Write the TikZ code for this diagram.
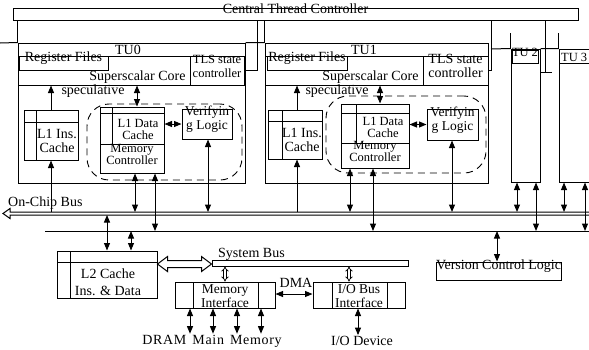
\documentclass[tikz,border=0pt]{standalone}
\usepackage{fontspec}
\setmainfont{Liberation Serif}
\usetikzlibrary{arrows.meta,fit,calc}
\tikzset{
  Tri/.tip={Triangle[length=7.5pt,width=6pt]},
  ln/.style={line width=1pt},
  box/.style={draw, line width=1pt, inner sep=0pt, align=center},
  one/.style={line width=1pt, -Tri},
  two/.style={line width=1pt, Tri-Tri},
  thintwo/.style={double, double distance=1.8pt, line width=0.7pt, {Implies}-{Implies}},
  grp/.style={draw, dash pattern=on 7pt off 5pt, line width=0.9pt, rounded corners=22pt, inner sep=0pt},
  fa/.style={font=\fontsize{12.5}{12}\selectfont},
  fb/.style={font=\fontsize{13.5}{14}\selectfont},
}
\begin{document}
\begin{tikzpicture}[x=1pt,y=-1pt,font=\fontsize{14}{14}\selectfont, every node/.append style={align=center}]
\useasboundingbox (0,0) rectangle (589,349);
\coordinate (obusT) at (0,212);
\coordinate (obusB) at (0,215);
\coordinate (lbus) at (0,231);

% central controller
\node[box, fit={(13,8)(578,20)}] (ctc) {Central Thread Controller};

% ---------- TU0
\node[box, fit={(18,43)(245,183)}] (tu0) {};
\node[box, fit={(18,56)(245,85)}] (core0) {};
\node[box, fit={(19,56)(108,70)}] (rf0) {Register Files};
\node[box, fit={(190,56)(244,85)}, font=\fontsize{12.5}{14.5}\selectfont] (tls0) {TLS state\\controller};
\node at (128,50) {TU0};
\node[anchor=east] at (189,77) {Superscalar Core};
\node at (93,91) {speculative};
\node[box, fit={(24,110)(78,160)}] (l1i0) {};
\draw[ln] (36,110) -- (36,160) (24,122) -- (78,122);
\node at (57,141) {L1 Ins.\\Cache};
\node[grp, fit={(87,104)(242,180)}] (g0) {};
\node[box, fit={(100,107)(164,144)}] (l1d0) {};
\draw[ln] (112,107) -- (112,144) (100,113) -- (164,113);
\node[fa] at (138,129) {L1 Data\\Cache};
\node[box, fa, fit={(100,144)(164,173)}] (mc0) {Memory\\Controller};
\node[box, fb, fit={(182,109)(232,139)}] (ver0) {Verifyin\\g Logic};
\draw[one] (l1i0.north -| 51,0) -- (core0.south -| 51,0);
\draw[two] (core0.south -| 137,0) -- (l1d0.north -| 137,0);
\draw[two] (ver0.west -| l1d0.east) -- (ver0.west);
\draw[one] (obusT -| 51,0) -- (l1i0.south -| 51,0);
\draw[two] (mc0.south -| 135,0) -- (obusT -| 135,0);
\draw[two] (mc0.south -| 155,0) -- (lbus -| 155,0);
\draw[two] (ver0.south -| 208,0) -- (obusT -| 208,0);
\draw[ln] (ctc.south -| tu0.west) -- (tu0.north west);
\draw[ln] (ctc.south -| 257,0) |- (tls0.east);

% ---------- TU1
\node[box, fit={(265,43)(488,183)}] (tu1) {};
\node[box, fit={(265,56)(488,85)}] (core1) {};
\node[box, fit={(267,56)(347,70)}] (rf1) {Register Files};
\node[box, fit={(423,56)(488,85)}, font=\fontsize{14}{14.5}\selectfont] (tls1) {TLS state\\controller};
\node at (364,50) {TU1};
\node[anchor=east] at (422,77) {Superscalar Core};
\node at (337,91) {speculative};
\node[box, fit={(268,110)(322,159)}] (l1i1) {};
\draw[ln] (282,110) -- (282,159) (268,121) -- (322,121);
\node at (302,140) {L1 Ins.\\Cache};
\node[grp, fit={(326,96)(486,173)}] (g1) {};
\node[box, fit={(341,104)(409,143)}] (l1d1) {};
\draw[ln] (356,104) -- (356,143) (341,113) -- (409,113);
\node[fa] at (383,127) {L1 Data\\Cache};
\node[box, fa, fit={(341,143)(409,168)}] (mc1) {Memory\\Controller};
\node[box, fb, fit={(427,109)(478,140)}] (ver1) {Verifyin\\g Logic};
\draw[one] (l1i1.north -| 297,0) -- (core1.south -| 297,0);
\draw[two] (core1.south -| 380,0) -- (l1d1.north -| 380,0);
\draw[two] (ver1.west -| l1d1.east) -- (ver1.west);
\draw[one] (obusT -| 297,0) -- (l1i1.south -| 297,0);
\draw[two] (mc1.south -| 350,0) -- (obusT -| 350,0);
\draw[two] (mc1.south -| 373,0) -- (lbus -| 373,0);
\draw[two] (ver1.south -| 452,0) -- (obusT -| 452,0);
\draw[ln] (ctc.south -| tu1.west) -- (tu1.north west);
\draw[ln] (ctc.south -| 491,0) |- (tls1.east);

% ---------- TU2, TU3
\node[box, fit={(511,49)(540,182)}] (tu2) {};
\draw[ln] (tu2.north west) -- ++(0,-16);
\node[box, fit={(512,50)(538,63)}, fa] (tl2) {TU 2};
\draw[ln] (ctc.south -| 545,0) -- (545,72) (540,72) -- (552,72);
\node[box, fit={(559,49)(620,182)}] (tu3) {};
\draw[ln] (tu3.north west) -- ++(0,-16);
\draw[ln] (560,63) -- (600,63);
\node[fa, anchor=west, inner sep=1pt] (tl3) at (560,57) {TU 3};
\draw[two] (tu2.south -| 517,0) -- (obusT -| 517,0);
\draw[two] (tu2.south -| 536,0) -- (lbus -| 536,0);
\draw[two] (tu3.south -| 564,0) -- (obusT -| 564,0);
\draw[two] (tu3.south -| 585,0) -- (lbus -| 585,0);

% top ring line
\draw[ln] (0,43) -- (tu0.north west) (tu0.north east) -- (tu1.north west) (491,49) -- (tu2.north west) (tu2.north east) -- (tu3.north west);

% buses
\draw[ln] (589,212) -- (10,212) -- (10,208.5) -- (3,213.5) -- (10,218.5) -- (10,215) -- (589,215);
\node[anchor=base west, inner sep=0pt] at (8,206) {On-Chip Bus};
\draw[ln] (45,231) -- (589,231);

% L2
\node[box, fit={(57,251)(157,298)}] (l2) {};
\draw[ln] (70,251) -- (70,298) (57,262) -- (157,262);
\node[font=\fontsize{14}{17}\selectfont] at (108,282) {L2 Cache\\Ins. \& Data};
\draw[two] (obusB -| 107,0) -- (l2.north -| 107,0);
\draw[two] (lbus -| 131,0) -- (l2.north -| 131,0);

% system bus
\node[box, fit={(212,260)(408,266)}] (sysbus) {};
\node[anchor=base west, inner sep=0pt] at (218,257) {System Bus};
\draw[ln] (l2.east |- 0,264) -- ++(10,-7.5) -- ++(0,4) -- ($(sysbus.west |- 0,264)+(-10,-3.5)$) -- ++(0,-4) -- (sysbus.west |- 0,264) -- ++(-10,7.5) -- ++(0,-4) -- ($(l2.east |- 0,264)+(10,3.5)$) -- ++(0,4) -- cycle;

% memory interface
\node[box, fit={(175,282)(275,308)}] (mi) {};
\draw[ln] (193,282) -- (193,308) (258,282) -- (258,308);
\node[fb] at (225,296) {Memory\\Interface};
\node[box, fit={(313,282)(405,308)}] (io) {};
\draw[ln] (332,282) -- (332,308) (387,282) -- (387,308);
\node[fb] at (359,296) {I/O Bus\\Interface};
\draw[thintwo] (sysbus.south -| 225,0) -- (mi.north -| 225,0);
\draw[thintwo] (sysbus.south -| 349,0) -- (io.north -| 349,0);
\draw[two] (mi.east |- 0,294) -- (io.west |- 0,294);
\node at (296,283) {DMA};

\node[inner sep=1pt, font=\fontsize{14}{14}\selectfont\addfontfeature{LetterSpace=5}] (dram) at (212,341) {DRAM\hspace{6pt}Main\hspace{6pt}Memory};
\foreach \xx in {190,213,237,261} \draw[two] (mi.south -| \xx,0) -- (dram.north -| \xx,0);
\node[inner sep=1pt] (iod) at (362,341) {I/O Device};
\draw[two] (io.south -| 358,0) -- (iod.north -| 358,0);

% version control logic
\node[box, fit={(436,262)(561,280)}] (vcl) {Version Control Logic};
\draw[two] (lbus -| 497,0) -- (vcl.north -| 497,0);
\end{tikzpicture}
\end{document}
